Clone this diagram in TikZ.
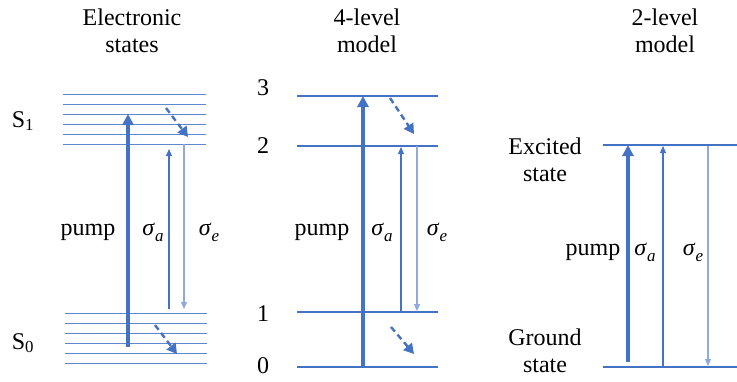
\documentclass[tikz,border=0pt]{standalone}
\usepackage{fontspec}
\setmainfont{Liberation Serif}
\usetikzlibrary{arrows.meta}
\definecolor{lvlblue}{RGB}{68,114,196}
\definecolor{paleblue}{RGB}{143,170,220}
\newcommand{\sig}[1]{\textit{σ}\raisebox{-0.25em}{\fontsize{17}{19}\selectfont\textit{#1}}}

\begin{document}
\begin{tikzpicture}[x=1pt, y=-1pt, font=\fontsize{24}{27}\selectfont,
    sublevel/.style={lvlblue!85, line width=0.8pt},
    level/.style={lvlblue, line width=2.8pt},
    pumparrow/.style={lvlblue, line width=3.6pt, -{Triangle[length=11pt, width=11pt]}},
    absarrow/.style={lvlblue, line width=1.1pt, -{Triangle[length=7pt, width=6pt]}},
    emiarrow/.style={paleblue, line width=1.1pt, -{Triangle[length=7pt, width=6pt]}},
    relaxarrow/.style={lvlblue, line width=2.4pt, dash pattern=on 6pt off 4pt, -{Triangle[length=10pt, width=11pt]}}]

    \useasboundingbox (0,0) rectangle (737,381);

    % Titles
    \node[align=center] (T1) at (132, 31) {Electronic\\states};
    \node[align=center] (T2) at (367, 31) {4-level\\model};
    \node[align=center] (T3) at (665, 31) {2-level\\model};

    % Electronic states: two bundles of sublevels
    \foreach \y in {94,104,114,124,134,144}
        \draw[sublevel] (63, \y) -- (206, \y);
    \foreach \y in {313,323,333,343,353,363}
        \draw[sublevel] (65, \y) -- (207, \y);
    \node (S1) at (23, 121) {S\textsubscript{1}};
    \node (S0) at (23, 343) {S\textsubscript{0}};

    \coordinate (P1a) at (128, 347);
    \coordinate (P1b) at (128, 114);
    \coordinate (A1a) at (169, 309);
    \coordinate (A1b) at (169, 149);
    \coordinate (E1a) at (184, 144);
    \coordinate (E1b) at (184, 309);
    \coordinate (R1a) at (166, 108);
    \coordinate (R1b) at (188, 137);
    \coordinate (R1c) at (155, 325);
    \coordinate (R1d) at (177, 354);

    \draw[pumparrow] (P1a) -- (P1b);
    \draw[absarrow] (A1a) -- (A1b);
    \draw[emiarrow] (E1a) -- (E1b);
    \draw[relaxarrow] (R1a) -- (R1b);
    \draw[relaxarrow] (R1c) -- (R1d);
    \node (pump1) at (88, 232) {pump};
    \node (sa1) at (153, 232) {\sig{a}};
    \node (se1) at (209, 232) {\sig{e}};

    % 4-level model
    \foreach \y/\ly/\lab in {96/88/3, 146/146/2, 312/314/1, 367/366/0} {
        \draw[level] (297, \y) -- (438, \y);
        \node at (263, \ly) {\lab};
    }

    \coordinate (P2a) at (363, 367);
    \coordinate (P2b) at (363, 96);
    \coordinate (A2a) at (401, 312);
    \coordinate (A2b) at (401, 147);
    \coordinate (E2a) at (417, 146);
    \coordinate (E2b) at (417, 311);
    \coordinate (R2a) at (390, 98);
    \coordinate (R2b) at (414, 134);
    \coordinate (R2c) at (391, 327);
    \coordinate (R2d) at (414, 354);

    \draw[pumparrow] (P2a) -- (P2b);
    \draw[absarrow] (A2a) -- (A2b);
    \draw[emiarrow] (E2a) -- (E2b);
    \draw[relaxarrow] (R2a) -- (R2b);
    \draw[relaxarrow] (R2c) -- (R2d);
    \node (pump2) at (322, 232) {pump};
    \node (sa2) at (382, 232) {\sig{a}};
    \node (se2) at (437, 232) {\sig{e}};

    % 2-level model
    \draw[level] (603, 145) -- (737, 145);
    \draw[level] (603, 367) -- (737, 367);
    \node[align=center] (Exc) at (545, 160) {Excited\\state};
    \node[align=center] (Gnd) at (545, 351) {Ground\\state};

    \coordinate (P3a) at (628, 362);
    \coordinate (P3b) at (628, 145);
    \coordinate (A3a) at (663, 367);
    \coordinate (A3b) at (663, 146);
    \coordinate (E3a) at (708, 146);
    \coordinate (E3b) at (708, 366);

    \draw[pumparrow] (P3a) -- (P3b);
    \draw[absarrow] (A3a) -- (A3b);
    \draw[emiarrow] (E3a) -- (E3b);
    \node (pump3) at (593, 252) {pump};
    \node (sa3) at (645, 252) {\sig{a}};
    \node (se3) at (693, 252) {\sig{e}};

\end{tikzpicture}
\end{document}
